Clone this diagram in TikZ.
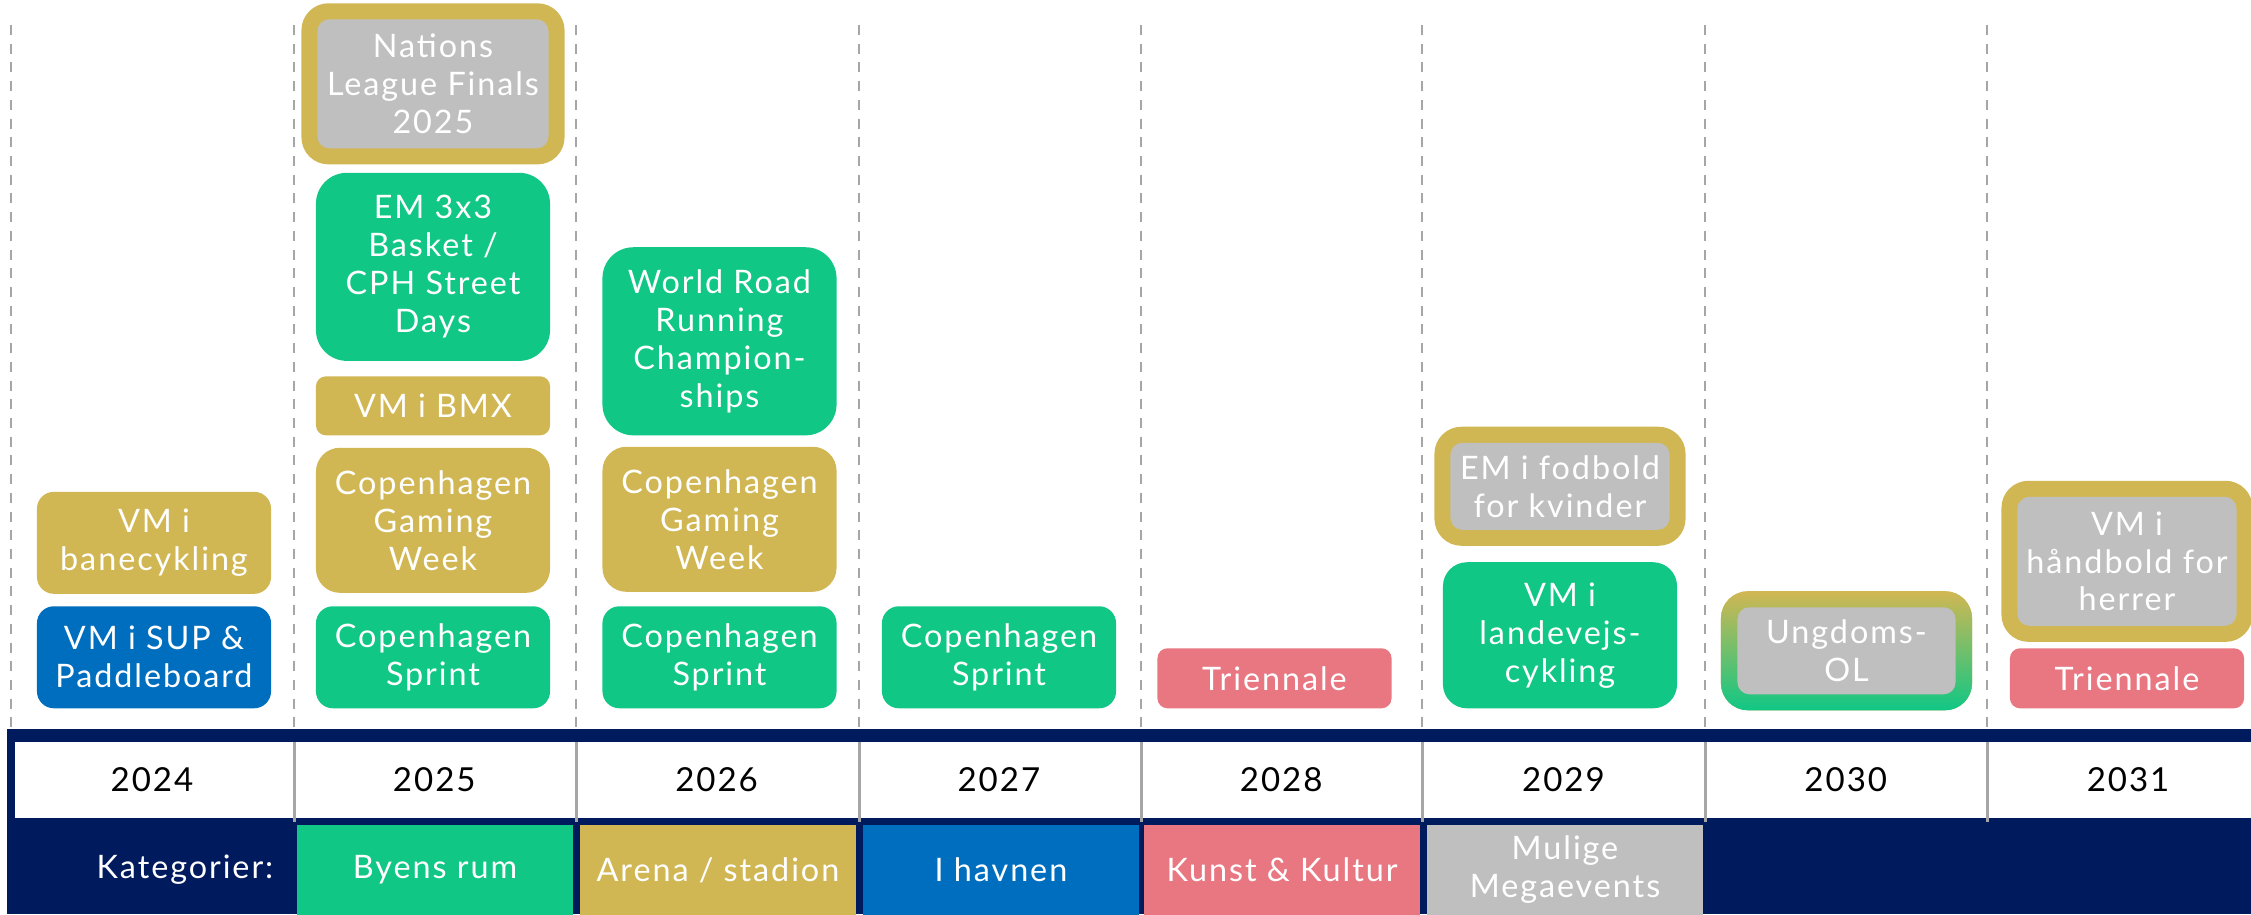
\documentclass[tikz,border=0pt]{standalone}
\usepackage{fontspec}
\setmainfont{Lato}[LetterSpace=6]
\usetikzlibrary{positioning}
\definecolor{navy}{HTML}{001A5E}
\definecolor{byencol}{HTML}{10C785}
\definecolor{arenacol}{HTML}{D1B753}
\definecolor{havncol}{HTML}{006EBE}
\definecolor{kunstcol}{HTML}{E97782}
\definecolor{megacol}{HTML}{BFBFBF}
\definecolor{gridcol}{HTML}{A6A6A6}
\newcommand{\boxfont}{\fontsize{9.2}{10.8}\selectfont}
\tikzstyle{event} = [rectangle, rounded corners=0.17cm, minimum width=2.34cm, minimum height=1.02cm, inner sep=1pt, align=center, text=white, font=\boxfont]
\tikzstyle{byen} = [event, fill=byencol]
\tikzstyle{arena} = [event, fill=arenacol]
\tikzstyle{havn} = [event, fill=havncol]
\tikzstyle{kunst} = [event, fill=kunstcol, minimum height=0.6cm, rounded corners=0.1cm]
\tikzstyle{megaframe} = [rectangle, rounded corners=0.27cm, fill=arenacol, minimum width=2.51cm, minimum height=1.19cm]
\tikzstyle{mega} = [event, fill=megacol, rounded corners=0.12cm, minimum width=2.19cm, minimum height=0.87cm]
\tikzstyle{year} = [font=\fontsize{9.4}{11}\selectfont, text=black]
\tikzstyle{category} = [rectangle, minimum width=2.76cm, minimum height=0.89cm, inner sep=1pt, align=center, text=white, font=\boxfont]

\begin{document}
\begin{tikzpicture}[x=0.01cm, y=-0.01cm, node distance=0.12cm]
    \useasboundingbox (0,0) rectangle (2251,914);

    % year columns
    \foreach \x in {11,294,576,859,1141,1422,1705,1987}
      \draw [gridcol, line width=0.027cm, dash pattern=on 0.1cm off 0.087cm] (\x,25) -- (\x,729);

    % timeline band
    \fill [navy] (7,729) rectangle (2251,914);
    \fill [white] (15,742) rectangle (2251,818);
    \foreach \x in {294,576,859,1141,1422,1705,1987}
      \draw [gridcol, line width=0.03cm] (\x,742) -- (\x,822);
    \foreach \y [count=\i from 0] in {2024,...,2031}
      \node (y\y) [year] at (152+282.3*\i,780) {\y};

    % categories
    \node (kat) [anchor=east, inner sep=0pt, text=white, font=\boxfont] at (274,870) {Kategorier:};
    \node (catbyen) [category, fill=byencol] at (435,870) {Byens rum};
    \node (catarena) [category, fill=arenacol] at (718,870) {Arena / stadion};
    \node (cathavn) [category, fill=havncol] at (1001,870) {I havnen};
    \node (catkunst) [category, fill=kunstcol] at (1282,870) {Kunst \& Kultur};
    \node (catmega) [category, fill=megacol] at (1565,870) {Mulige\\Megaevents};

    % 2024
    \node (sup) [havn, anchor=south] at (154,709) {VM i SUP \&\\Paddleboard};
    \node (bane) [arena, above=0.11cm of sup] {VM i\\banecykling};

    % 2025
    \node (sprint25) [byen, anchor=south] at (433,709) {Copenhagen\\Sprint};
    \node (gaming25) [arena, above=of sprint25, minimum height=1.45cm, rounded corners=0.24cm] {Copenhagen\\Gaming\\Week};
    \node (bmx) [arena, above=0.11cm of gaming25, minimum height=0.59cm, rounded corners=0.1cm] {VM i BMX};
    \node (basket) [byen, above=0.14cm of bmx, minimum height=1.88cm, rounded corners=0.31cm] {EM 3x3\\Basket /\\CPH Street\\Days};
    \node (nlfframe) [megaframe, above=0.07cm of basket, minimum width=2.63cm, minimum height=1.61cm] {};
    \node (nlf) [mega, minimum width=2.31cm, minimum height=1.29cm] at (nlfframe) {Nations\\League Finals\\2025};

    % 2026
    \node (sprint26) [byen, anchor=south] at (719.5,709) {Copenhagen\\Sprint};
    \node (gaming26) [arena, above=0.13cm of sprint26, minimum height=1.45cm, rounded corners=0.24cm] {Copenhagen\\Gaming\\Week};
    \node (wrrc) [byen, above=0.1cm of gaming26, minimum height=1.88cm, rounded corners=0.31cm] {World Road\\Running\\Champion-\\ships};

    % 2027
    \node (sprint27) [byen, anchor=south] at (999,709) {Copenhagen\\Sprint};

    % 2028
    \node (trien28) [kunst, anchor=south] at (1274.5,709) {Triennale};

    % 2029
    \node (landevej) [byen, anchor=south, minimum height=1.46cm, rounded corners=0.24cm] at (1560,709) {VM i\\landevejs-\\cykling};
    \node (emfframe) [megaframe, above=0.15cm of landevej] {};
    \node (emf) [mega] at (emfframe) {EM i fodbold\\for kvinder};

    % 2030
    \node (olframe) [megaframe, anchor=south, top color=arenacol, bottom color=byencol] at (1846.5,711) {};
    \node (ol) [mega, minimum width=2.18cm] at (olframe) {Ungdoms-\\OL};

    % 2031
    \node (trien31) [kunst, anchor=south] at (2127,709) {Triennale};
    \node (hbframe) [megaframe, above=0.05cm of trien31, minimum height=1.61cm] {};
    \node (hb) [mega, minimum height=1.29cm] at (hbframe) {VM i\\håndbold for\\herrer};
\end{tikzpicture}
\end{document}
